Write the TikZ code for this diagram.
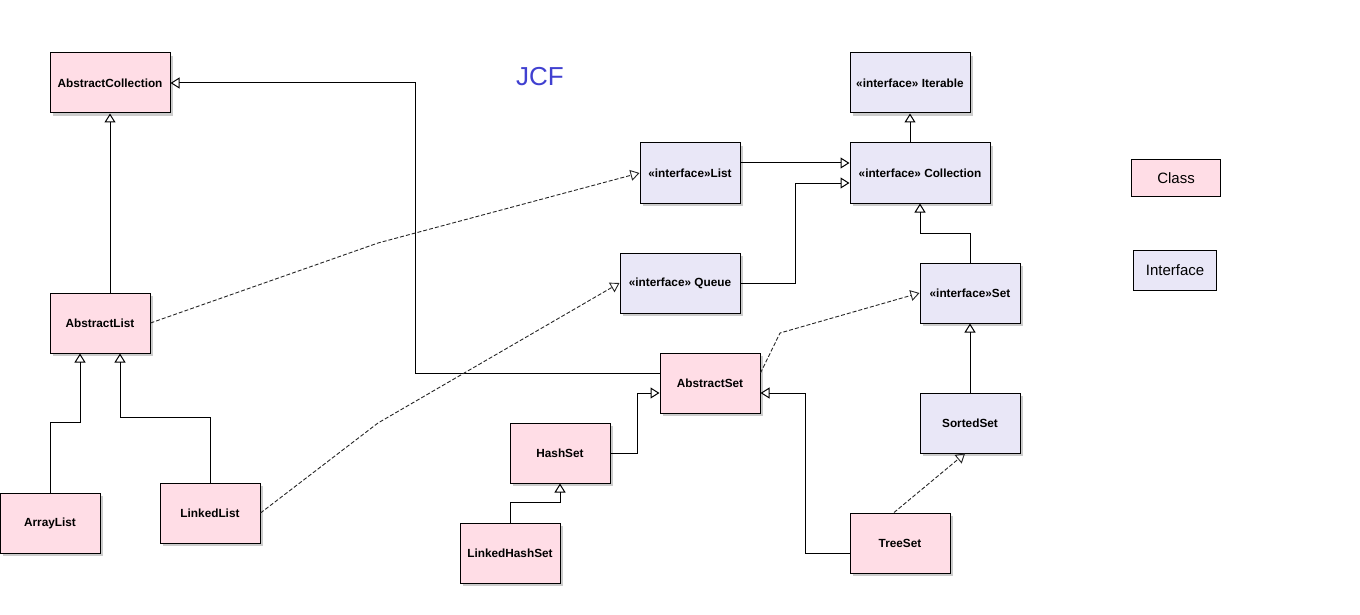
\documentclass[tikz,border=0pt]{standalone}
\usepackage{fontspec}
\setmainfont{Liberation Sans}
\usetikzlibrary{arrows.meta}
\usetikzlibrary{shadows}
\definecolor{ClassPink}{RGB}{255,221,230}
\definecolor{IfacePurple}{RGB}{233,231,247}
\definecolor{TitleBlue}{RGB}{64,64,208}
\tikzstyle{BoxNode}=[rectangle, draw=black, line width=1pt, inner sep=0pt, minimum height=60pt, minimum width=100pt, font=\bfseries\fontsize{11.8}{13}\selectfont, drop shadow={shadow xshift=3pt, shadow yshift=-3pt, fill=black!20, opacity=1}]
\tikzstyle{ClassNode}=[BoxNode, fill=ClassPink]
\tikzstyle{IfaceNode}=[BoxNode, fill=IfacePurple]
\tikzstyle{KeyNode}=[rectangle, draw=black, line width=1pt, inner sep=0pt, font=\fontsize{15}{17}\selectfont]
\tikzstyle{ExtendEdge}=[-{Triangle[open, length=9pt, width=11pt]}, line width=1pt]
\tikzstyle{ImplEdge}=[ExtendEdge, line width=0.9pt, black!85, dash pattern=on 4pt off 2pt]

\begin{document}
\begin{tikzpicture}[x=1pt, y=-1pt]
\useasboundingbox (0,0) rectangle (1360,615);
\node[text=TitleBlue, font=\fontsize{26}{30}\selectfont](Title) at (540,77) {JCF};

\node[ClassNode, minimum width=120pt](AbsColl) at (110,83) {AbstractCollection};
\node[ClassNode](AbsList) at (100,323) {AbstractList};
\node[ClassNode](ArrList) at (50,523) {ArrayList};
\node[ClassNode](LnkList) at (210,513) {LinkedList};
\node[IfaceNode, minimum width=120pt](Iter) at (910,83) {«interface» Iterable};
\node[IfaceNode](List) at (690,173) {«interface»List};
\node[IfaceNode, minimum width=140pt](Coll) at (920,173) {«interface» Collection};
\node[IfaceNode, minimum width=120pt](Queue) at (680,283) {«interface» Queue};
\node[IfaceNode](Set) at (970,293) {«interface»Set};
\node[ClassNode](AbsSet) at (710,383) {AbstractSet};
\node[ClassNode](HashSet) at (560,453) {HashSet};
\node[ClassNode](LHSet) at (510,553) {LinkedHashSet};
\node[IfaceNode](SortSet) at (970,423) {SortedSet};
\node[ClassNode](TreeSet) at (900,543) {TreeSet};

\node[KeyNode, fill=ClassPink, minimum width=89pt, minimum height=36pt](KeyClass) at (1176,178) {Class};
\node[KeyNode, fill=IfacePurple, minimum width=83pt, minimum height=40pt](KeyIface) at (1175,270) {Interface};

\coordinate (BendList) at (378,243);
\coordinate (BendQueue) at (378,423);
\coordinate (BendSet) at (780,333);
\coordinate (CornerColl) at (415,83);

\draw[ExtendEdge](AbsList.north -| AbsColl.south) -- (AbsColl.south);
\draw[ExtendEdge](ArrList.north) -- ++(0,-70) -| ([xshift=-20pt]AbsList.south);
\draw[ExtendEdge](LnkList.north) -- ++(0,-65) -| ([xshift=20pt]AbsList.south);
\draw[ExtendEdge]([yshift=10pt]AbsSet.west) -| (CornerColl) -- (AbsColl.east);
\draw[ExtendEdge]([yshift=10pt]List.east) -- ([yshift=10pt]List.east -| Coll.west);
\draw[ExtendEdge](Queue.east) -| (795,183) -- ([yshift=-10pt]Coll.west);
\draw[ExtendEdge]([xshift=-10pt]Coll.north) -- (Iter.south);
\draw[ExtendEdge](Set.north) |- (920,233) -- (Coll.south);
\draw[ExtendEdge](SortSet.north) -- (Set.south);
\draw[ExtendEdge](HashSet.east) -| (637,393) -- ([yshift=-10pt]AbsSet.west);
\draw[ExtendEdge](LHSet.north) -- ++(0,-20) -| (HashSet.south);
\draw[ExtendEdge]([yshift=-10pt]TreeSet.west) -| (805,393) -- ([yshift=-10pt]AbsSet.east);

\draw[ImplEdge](AbsList.east) -- (BendList) -- (List.west);
\draw[ImplEdge](LnkList.east) -- (BendQueue) -- (Queue.west);
\draw[ImplEdge]([yshift=10pt]AbsSet.east) -- (BendSet) -- (Set.west);
\draw[ImplEdge]([xshift=-6pt]TreeSet.north) -- ([xshift=-5pt]SortSet.south);

\end{tikzpicture}
\end{document}
